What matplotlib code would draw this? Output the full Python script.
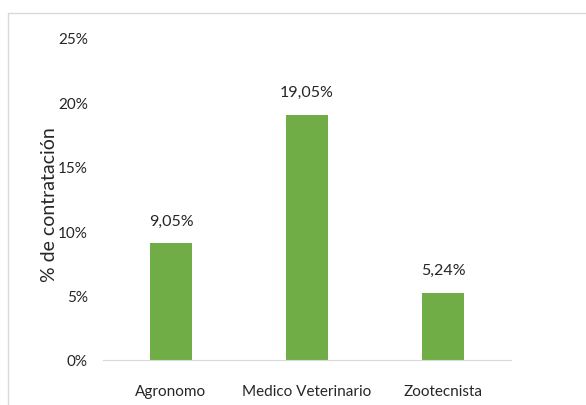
import matplotlib
matplotlib.use("Agg")
import matplotlib.pyplot as plt
from matplotlib.patches import Rectangle
from matplotlib.ticker import FuncFormatter

categories = ["Agronomo", "Medico Veterinario", "Zootecnista"]
values = [9.05, 19.05, 5.24]
labels = ["9,05%", "19,05%", "5,24%"]
yticks = [0, 5, 10, 15, 20, 25]

plt.rcParams['font.family'] = ['Lato', 'DejaVu Sans']
W, H = 586, 406
fig = plt.figure(figsize=(W/100, H/100), dpi=100)
fig.patch.set_facecolor("white")
fig.patches.append(Rectangle((8/W, -0.1), 1.2, 1 - 14/H + 0.1, transform=fig.transFigure,
                             fill=False, edgecolor="#D9D9D9", linewidth=1.0))

ax = fig.add_axes([103/W, 1 - 361/H, (511-103)/W, (361-39)/H])
x = range(len(categories))
ax.bar(x, values, width=0.31, color="#70AD47")
for xi, v, lab in zip(x, values, labels):
    ax.text(xi, v + 1.2, lab, ha="center", va="bottom", fontsize=11.5, color="#262626")

ax.set_xlim(-0.5, 2.5)
ax.set_ylim(0, 25)
ax.set_yticks(yticks)
ax.yaxis.set_major_formatter(FuncFormatter(lambda v, p: f"{int(v)}%"))
ax.set_xticks(list(x))
ax.set_xticklabels(categories)
ax.tick_params(axis="both", length=0, labelsize=11, colors="#262626")
ax.tick_params(axis="x", pad=17)
ax.tick_params(axis="y", pad=11)
for s in ["top", "right", "left"]:
    ax.spines[s].set_visible(False)
ax.spines["bottom"].set_color("#D9D9D9")
ax.set_ylabel("% de contratación", fontsize=14, color="#262626")
ax.yaxis.label.set_va("center")
ax.yaxis.set_label_coords(-53/408, (361-205)/322)
fig.savefig("out.png", dpi=100)
